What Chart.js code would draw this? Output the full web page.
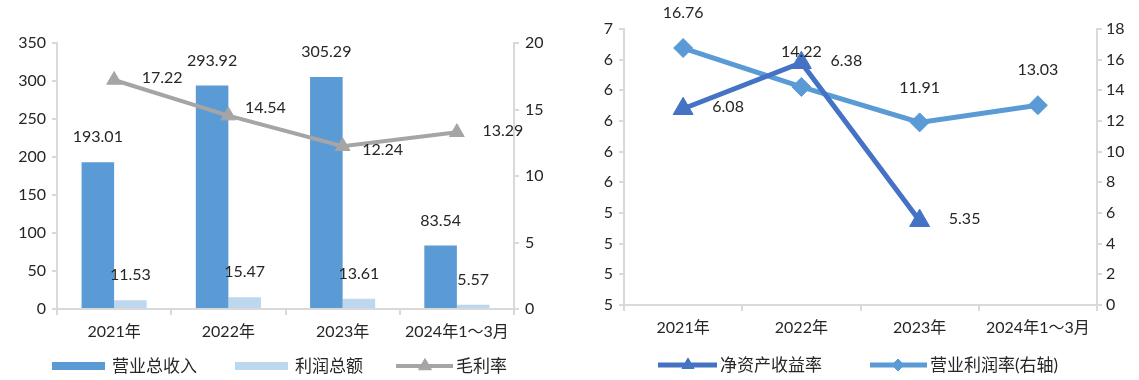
<!DOCTYPE html>
<html><head><meta charset="utf-8">
<script src="https://cdn.jsdelivr.net/npm/chart.js@4.4.1/dist/chart.umd.min.js"></script>
<style>
html,body{margin:0;padding:0;background:#fff;}
#wrap{position:relative;width:1139px;height:380px;overflow:hidden;}
#c1{position:absolute;left:0;top:0;}
#c2{position:absolute;left:570px;top:0;}
</style></head><body>
<div id="wrap"><canvas id="c1" width="570" height="380"></canvas><canvas id="c2" width="569" height="380"></canvas></div>
<script>
// ---- data ----
const categories = ['2021年', '2022年', '2023年', '2024年1～3月'];
const revenue = [193.01, 293.92, 305.29, 83.54];        // 营业总收入
const totalProfit = [11.53, 15.47, 13.61, 5.57];        // 利润总额
const grossMargin = [17.22, 14.54, 12.24, 13.29];       // 毛利率
const roe = [6.08, 6.38, 5.35, null];                   // 净资产收益率
const operatingMargin = [16.76, 14.22, 11.91, 13.03];   // 营业利润率(右轴)
const leftTicks1 = [0, 50, 100, 150, 200, 250, 300, 350];
const rightTicks1 = [0, 5, 10, 15, 20];
const roeTicks = [4.8, 5.0, 5.2, 5.4, 5.6, 5.8, 6.0, 6.2, 6.4, 6.6];
const omTicks = [0, 2, 4, 6, 8, 10, 12, 14, 16, 18];

// ---- styles ----
const FONT = 'Lato, "Noto Sans CJK SC", sans-serif';
const TXT = '#262626';
const AXIS = '#D9D9D9';
const C_REV = '#5B9BD5', C_PROF = '#BDD7EE', C_GM = '#A5A5A5';
const C_ROE = '#4472C4', C_OM = '#5B9BD5';

function fixedTicks(arr) {
  return function (scale) { scale.ticks = arr.map(v => ({ value: v })); };
}

const dataLabels = {
  id: 'dlabels',
  afterDatasetsDraw(chart, args, opts) {
    const ctx = chart.ctx;
    ctx.save();
    ctx.font = '16px ' + FONT;
    ctx.fillStyle = TXT;
    ctx.textAlign = 'center';
    ctx.textBaseline = 'middle';
    (opts.sets || []).forEach(s => {
      const meta = chart.getDatasetMeta(s.index);
      const ds = chart.data.datasets[s.index];
      meta.data.forEach((el, i) => {
        const v = ds.data[i];
        if (v === null || v === undefined) return;
        const off = s.offsets ? s.offsets[i] : [s.dx, s.dy];
        ctx.fillText(v.toFixed(2), el.x + off[0], el.y + off[1]);
      });
    });
    ctx.restore();
  }
};

const customLegend = {
  id: 'clegend',
  afterDraw(chart, args, opts) {
    const ctx = chart.ctx;
    ctx.save();
    const y = opts.y;
    (opts.items || []).forEach(it => {
      if (it.type === 'rect') {
        ctx.fillStyle = it.color;
        ctx.fillRect(it.x, y - 4, it.w, 8);
      } else {
        ctx.strokeStyle = it.color;
        ctx.lineWidth = it.lw;
        ctx.beginPath();
        ctx.moveTo(it.x, y); ctx.lineTo(it.x + it.w, y);
        ctx.stroke();
        ctx.fillStyle = it.color;
        ctx.strokeStyle = it.color;
        ctx.lineWidth = 1;
        Chart.helpers.drawPoint(ctx, { pointStyle: it.marker, radius: it.r, borderWidth: 1, rotation: 0 }, it.mx, y);
      }
      ctx.fillStyle = TXT;
      ctx.font = '17px ' + FONT;
      ctx.textAlign = 'left';
      ctx.textBaseline = 'middle';
      ctx.fillText(it.text, it.tx, y + 1);
    });
    ctx.restore();
  }
};

const axisCommon = (extra) => Object.assign({
  grid: { display: true, drawOnChartArea: false, drawTicks: true, tickLength: 5, color: AXIS, lineWidth: 2 },
  border: { display: true, color: AXIS, width: 2 },
}, extra);

// ---- chart 1 ----
new Chart(document.getElementById('c1'), {
  data: {
    labels: categories,
    datasets: [
      { type: 'line', label: '毛利率', data: grossMargin, yAxisID: 'y1', order: 0,
        borderColor: C_GM, backgroundColor: C_GM, borderWidth: 4, tension: 0,
        pointStyle: 'triangle', pointRadius: 8.5, pointBorderWidth: 1,
        pointBackgroundColor: C_GM, pointBorderColor: C_GM },
      { type: 'bar', label: '营业总收入', data: revenue, yAxisID: 'y', order: 1,
        backgroundColor: C_REV, categoryPercentage: 0.57, barPercentage: 1.0 },
      { type: 'bar', label: '利润总额', data: totalProfit, yAxisID: 'y', order: 2,
        backgroundColor: C_PROF, categoryPercentage: 0.57, barPercentage: 1.0 }
    ]
  },
  options: {
    responsive: false, animation: false, devicePixelRatio: 1,
    layout: { padding: { left: 0, right: 16, top: 43, bottom: 0 } },
    plugins: {
      legend: { display: false }, tooltip: { enabled: false },
      dlabels: { sets: [
        { index: 1, dx: 0, dy: -25 },
        { index: 2, dx: 0, dy: -25 },
        { index: 0, offsets: [[48, -2], [37, -8], [40, 4], [46, -1]] }
      ] },
      clegend: { y: 366, items: [
        { type: 'rect', color: C_REV, x: 52, w: 53, text: '营业总收入', tx: 112 },
        { type: 'rect', color: C_PROF, x: 235, w: 53, text: '利润总额', tx: 295 },
        { type: 'line', color: C_GM, lw: 4, marker: 'triangle', r: 7.5, x: 396, w: 57, mx: 425, text: '毛利率', tx: 456 }
      ] }
    },
    scales: {
      x: axisCommon({
        offset: true,
        grid: { display: true, drawOnChartArea: false, drawTicks: true, tickLength: 6, color: AXIS, lineWidth: 2, offset: true },
        ticks: { font: { family: FONT, size: 16 }, color: TXT, padding: 7, maxRotation: 0, autoSkip: false },
        afterFit(s) { s.height = 71; }
      }),
      y: axisCommon({
        position: 'left', min: 0, max: 350,
        afterBuildTicks: fixedTicks(leftTicks1),
        ticks: { font: { family: FONT, size: 16 }, color: TXT, padding: 6 },
        afterFit(s) { s.width = 57; }
      }),
      y1: axisCommon({
        position: 'right', min: 0, max: 20,
        afterBuildTicks: fixedTicks(rightTicks1),
        ticks: { font: { family: FONT, size: 16 }, color: TXT, padding: 6 },
        afterFit(s) { s.width = 40; }
      })
    }
  },
  plugins: [dataLabels, customLegend]
});

// ---- chart 2 ----
new Chart(document.getElementById('c2'), {
  type: 'line',
  data: {
    labels: categories,
    datasets: [
      { label: '净资产收益率', data: roe, yAxisID: 'y', order: 0,
        borderColor: C_ROE, backgroundColor: C_ROE, borderWidth: 5, tension: 0,
        pointStyle: 'triangle', pointRadius: 11.5, pointBorderWidth: 1,
        pointBackgroundColor: C_ROE, pointBorderColor: C_ROE },
      { label: '营业利润率(右轴)', data: operatingMargin, yAxisID: 'y1', order: 1,
        borderColor: C_OM, backgroundColor: C_OM, borderWidth: 5, tension: 0,
        pointStyle: 'rectRot', pointRadius: 9.5, pointBorderWidth: 1,
        pointBackgroundColor: C_OM, pointBorderColor: C_OM }
    ]
  },
  options: {
    responsive: false, animation: false, devicePixelRatio: 1,
    layout: { padding: { left: 0, right: 2, top: 29, bottom: 0 } },
    plugins: {
      legend: { display: false }, tooltip: { enabled: false },
      dlabels: { sets: [
        { index: 0, dx: 45, dy: -2 },
        { index: 1, dx: 0, dy: -35 }
      ] },
      clegend: { y: 365, items: [
        { type: 'line', color: C_ROE, lw: 5, marker: 'triangle', r: 7, x: 88, w: 59, mx: 118, text: '净资产收益率', tx: 150 },
        { type: 'line', color: C_OM, lw: 5, marker: 'rectRot', r: 6, x: 300, w: 57, mx: 328, text: '营业利润率(右轴)', tx: 360 }
      ] }
    },
    scales: {
      x: axisCommon({
        offset: true,
        grid: { display: true, drawOnChartArea: false, drawTicks: true, tickLength: 6, color: AXIS, lineWidth: 2, offset: true },
        ticks: { font: { family: FONT, size: 16 }, color: TXT, padding: 7, maxRotation: 0, autoSkip: false },
        afterFit(s) { s.height = 75; }
      }),
      y: axisCommon({
        position: 'left', min: 4.8, max: 6.6,
        afterBuildTicks: fixedTicks(roeTicks),
        ticks: { font: { family: FONT, size: 16 }, color: TXT, padding: 6,
          callback: v => Math.round(v).toFixed(0) },
        afterFit(s) { s.width = 54; }
      }),
      y1: axisCommon({
        position: 'right', min: 0, max: 18,
        afterBuildTicks: fixedTicks(omTicks),
        ticks: { font: { family: FONT, size: 16 }, color: TXT, padding: 4 },
        afterFit(s) { s.width = 40; }
      })
    }
  },
  plugins: [dataLabels, customLegend]
});
</script>
</body></html>
